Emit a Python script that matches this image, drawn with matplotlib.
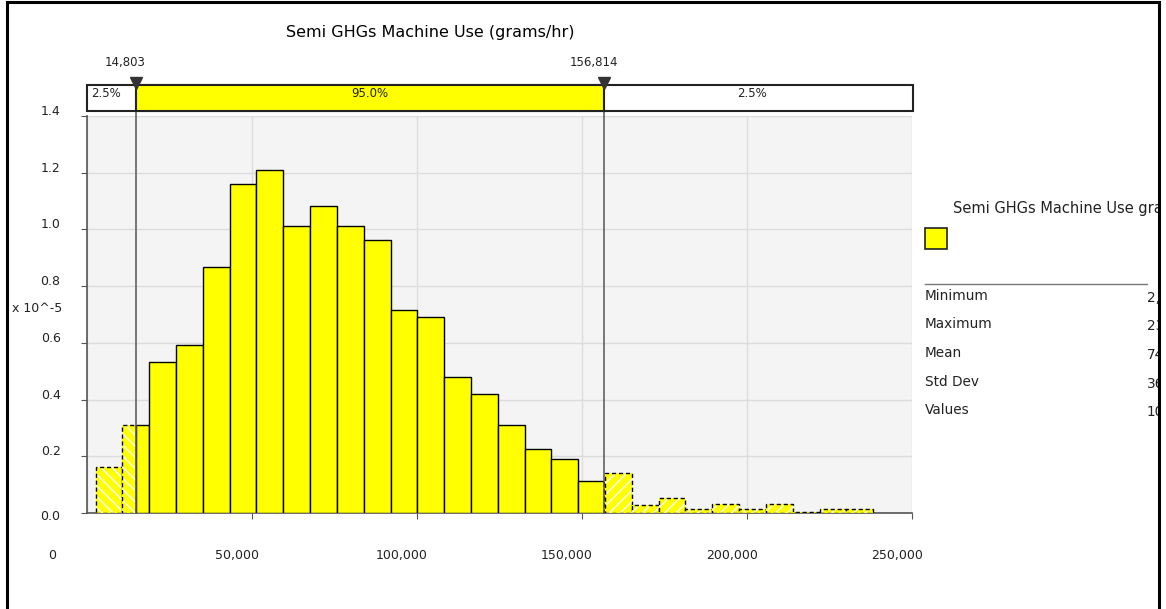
import numpy as np
import matplotlib
matplotlib.use("Agg")
import matplotlib.pyplot as plt
from matplotlib.patches import Rectangle
from matplotlib.transforms import ScaledTranslation

# histogram of simulated output, density in units of 1e-5
title = "Semi GHGs Machine Use (grams/hr)"
bin_start = 2600
bin_width = 8125
density = [0.163, 0.310, 0.533, 0.593, 0.866, 1.160, 1.209, 1.012, 1.083, 1.013,
           0.963, 0.715, 0.690, 0.481, 0.421, 0.310, 0.226, 0.189, 0.114, 0.140,
           0.028, 0.054, 0.013, 0.031, 0.013, 0.031, 0.004, 0.013, 0.013]
p_low, p_high = 14803, 156814
pct_labels = ["2.5%", "95.0%", "2.5%"]
x_ticks = [0, 50000, 100000, 150000, 200000, 250000]
y_ticks = [0.0, 0.2, 0.4, 0.6, 0.8, 1.0, 1.2, 1.4]
legend_label = "Semi GHGs Machine Use grams/hr"
stat_names = ["Minimum", "Maximum", "Mean", "Std Dev", "Values"]
stat_values = ["2,627", "238,209", "74,615", "36,412", "10,000"]

W, H = 1166, 609
YEL = "#ffff00"
plt.rcParams["font.family"] = ["DejaVu Sans"]

fig = plt.figure(figsize=(W / 100, H / 100), dpi=100)


def box(x0, y0, x1, y1):
    # pixel box (top-left origin) -> figure fraction rect
    return [x0 / W, 1 - y1 / H, (x1 - x0) / W, (y1 - y0) / H]


def shift(dx, dy):
    return ScaledTranslation(dx / 100, -dy / 100, fig.dpi_scale_trans)


# outer frame
fig.patches.append(Rectangle((7 / W, -0.02), (1159 - 7) / W, 1.02 - 2 / H,
                             transform=fig.transFigure, fill=False,
                             edgecolor="black", lw=2.2))

fig.text(430 / W, 1 - 33 / H, title, ha="center", va="center", fontsize=11.5)

# main histogram
ax = fig.add_axes(box(87, 116, 912, 513))
ax.set_facecolor("#f4f4f4")
ax.set_xlim(0, 250000)
ax.set_ylim(0, 1.4)

edges = bin_start + bin_width * np.arange(len(density) + 1)
for lo, h in zip(edges[:-1], density):
    hi = lo + bin_width
    pieces = [(lo, min(hi, p_low), "\\\\\\"),
              (max(lo, p_low), min(hi, p_high), None),
              (max(lo, p_high), hi, "///")]
    for a, b, hatch in pieces:
        if b <= a:
            continue
        if hatch is None:
            ax.bar(a, h, width=b - a, align="edge", color=YEL,
                   edgecolor="black", lw=1.0, zorder=3)
        else:
            ax.bar(a, h, width=b - a, align="edge", color=YEL,
                   edgecolor="white", hatch=hatch, lw=0, zorder=3)
            ax.bar(a, h, width=b - a, align="edge", fill=False,
                   edgecolor="black", lw=1.0, ls=(0, (3, 2)), zorder=3)

for p in (p_low, p_high):
    ax.plot([p, p], [0, 1.42], color="#555555", lw=1.1, clip_on=False, zorder=4)

ax.grid(True, color="#dcdcdc", lw=1)
ax.set_axisbelow(True)
for s in ("top", "right"):
    ax.spines[s].set_visible(False)
for s in ("left", "bottom"):
    ax.spines[s].set_color("#555555")
    ax.spines[s].set_linewidth(1.2)

ax.set_xticks(x_ticks)
ax.set_xticklabels([f"{v:,.0f}" for v in x_ticks], fontsize=9, color="#222222")
ax.set_yticks(y_ticks)
ax.set_yticklabels([f"{v:.1f}" for v in y_ticks], fontsize=9, color="#222222")
ax.tick_params(axis="x", length=4, color="#555555", pad=22)
ax.tick_params(axis="y", length=4, color="#555555", pad=15)
ax.xaxis.get_major_ticks()[0].tick1line.set_visible(False)

for i, lab in enumerate(ax.get_xticklabels()):
    dx = -35 if i == 0 else -15
    lab.set_transform(lab.get_transform() + shift(dx, 0))
for i, lab in enumerate(ax.get_yticklabels()):
    dy = 2 if i == 0 else -6
    lab.set_transform(lab.get_transform() + shift(0, dy))

fig.text(12 / W, 1 - 308 / H, "x 10^-5", ha="left", va="center", fontsize=9,
         color="#222222")

# percentile bar above the plot
axb = fig.add_axes(box(87, 85, 912, 111))
axb.set_xlim(0, 250000)
axb.set_ylim(0, 1)
axb.axis("off")
axb.add_patch(Rectangle((0, 0), 250000 * 913 / 912, 1, facecolor="white",
                        edgecolor="#222222", lw=1.5, clip_on=False))
axb.add_patch(Rectangle((p_low, 0), p_high - p_low, 1, facecolor=YEL,
                        edgecolor="#222222", lw=1.5, clip_on=False))
axb.text(1200, 0.93, pct_labels[0], ha="left", va="top", fontsize=8.5,
         color="#222222")
axb.text((p_low + p_high) / 2, 0.93, pct_labels[1], ha="center", va="top",
         fontsize=8.5, color="#222222")
axb.text((p_high + 250000) / 2, 0.93, pct_labels[2], ha="center", va="top",
         fontsize=8.5, color="#222222",
         transform=axb.transData + shift(-6, 0))
for p in (p_low, p_high):
    axb.plot([p], [1.08], marker="v", markersize=8, color="#333333",
             clip_on=False, zorder=5)
    axb.text(p, 1.85, f"{p:,.0f}", ha="center", va="center", fontsize=8.5,
             color="#222222", transform=axb.transData + shift(-11, 0))

# legend and summary statistics, clipped by the frame edge
axl = fig.add_axes(box(910, 180, 1158, 470))
axl.set_xlim(910, 1158)
axl.set_ylim(470, 180)
axl.axis("off")
axl.text(953, 208, legend_label, ha="left", va="center", fontsize=10.5,
         color="#222222", clip_on=True)
axl.add_patch(Rectangle((925, 228), 22, 21, facecolor=YEL, edgecolor="#222222",
                        lw=1.2))
axl.plot([925, 1147], [284, 284], color="#777777", lw=1)
for i, (name, val) in enumerate(zip(stat_names, stat_values)):
    y = 296 + 28.5 * i
    axl.text(925, y, name, ha="left", va="center", fontsize=9.8, color="#222222")
    axl.text(1147, y + 2, val, ha="left", va="center", fontsize=9.8,
             color="#222222", clip_on=True)

fig.savefig("out.png", dpi=100)
